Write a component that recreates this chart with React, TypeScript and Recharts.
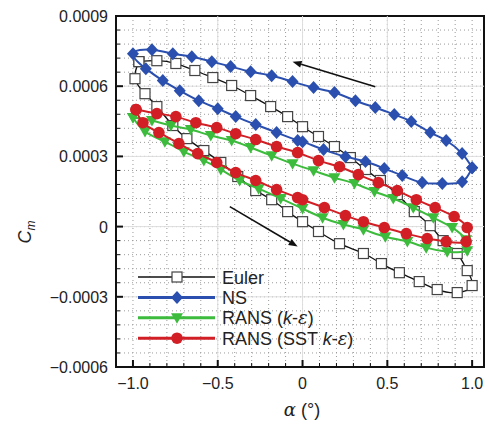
import React from "react";
import {
  ScatterChart,
  Scatter,
  XAxis,
  YAxis,
  CartesianGrid,
  ReferenceArea,
  ReferenceLine,
  Legend,
  Customized,
} from "recharts";

// Euler loop (upper branch left->right, then lower branch right->left)
const eulerAlpha = [
  -0.965, -0.859, -0.747, -0.635, -0.529, -0.418, -0.306, -0.188, -0.088, 0, 0.094, 0.188, 0.282, 0.371,
  0.459, 0.559, 0.659, 0.753, 0.829, 0.912, 0.971, 1.0, 0.912, 0.794, 0.688, 0.571, 0.465, 0.359, 0.218,
  0.094, 0, -0.088, -0.182, -0.276, -0.382, -0.482, -0.582, -0.682, -0.765, -0.859, -0.929, -0.988,
];
const eulerCm = [
  0.000705, 0.000709, 0.000697, 0.000667, 0.000637, 0.000603, 0.00056, 0.000513, 0.00047, 0.000427, 0.000385,
  0.000342, 0.000295, 0.000244, 0.000197, 0.000137, 0.000064, 0.000004, -0.00006, -0.000115, -0.000188,
  -0.000252, -0.000282, -0.000269, -0.000235, -0.000197, -0.000158, -0.000115, -0.000073, -0.000021, 0.000021,
  0.000064, 0.000115, 0.000154, 0.000214, 0.000274, 0.000325, 0.000376, 0.000432, 0.000513, 0.000568, 0.000632,
];

// NS loop
const nsAlpha = [
  1.0, 0.941, 0.847, 0.753, 0.641, 0.541, 0.429, 0.312, 0.188, 0.065, -0.059, -0.182, -0.306, -0.424, -0.535,
  -0.653, -0.765, -0.888, -1.0, -0.924, -0.824, -0.724, -0.612, -0.5, -0.394, -0.276, -0.153, -0.029, 0, 0.124,
  0.253, 0.371, 0.482, 0.588, 0.706, 0.824, 0.941,
];
const nsCm = [
  0.000252, 0.000312, 0.000368, 0.000402, 0.000449, 0.000479, 0.000509, 0.000538, 0.000573, 0.000594, 0.00062,
  0.000645, 0.000662, 0.000684, 0.000705, 0.000726, 0.000739, 0.000756, 0.000739, 0.000675, 0.000624, 0.000581,
  0.000538, 0.000504, 0.00047, 0.000436, 0.000402, 0.000368, 0.000363, 0.000329, 0.000299, 0.000278, 0.000248,
  0.000218, 0.000188, 0.000184, 0.000192,
];

// RANS (k-eps) loop
const keAlpha = [
  -1.0, -0.888, -0.776, -0.659, -0.541, -0.418, -0.306, -0.182, -0.059, 0.065, 0.188, 0.306, 0.424, 0.535,
  0.653, 0.771, 0.882, 0.965, 0.971, 0.853, 0.729, 0.618, 0.488, 0.359, 0.241, 0.118, 0, -0.129, -0.259,
  -0.371, -0.482, -0.582, -0.7, -0.812, -0.929,
];
const keCm = [
  0.000466, 0.000453, 0.000432, 0.000415, 0.000389, 0.000368, 0.000338, 0.000303, 0.000269, 0.000239, 0.000209,
  0.000184, 0.00015, 0.00012, 0.000081, 0.000038, -0.000004, -0.000056, -0.000103, -0.000107, -0.00009,
  -0.000064, -0.000043, -0.000013, 0.000009, 0.000038, 0.000077, 0.00012, 0.000162, 0.000197, 0.000244,
  0.000282, 0.00032, 0.000363, 0.000406,
];

// RANS (SST k-eps) loop
const sstAlpha = [
  -0.982, -0.859, -0.747, -0.629, -0.506, -0.394, -0.276, -0.153, -0.029, 0.094, 0.218, 0.329, 0.447, 0.559,
  0.671, 0.782, 0.894, 0.971, 0.965, 0.847, 0.735, 0.612, 0.482, 0.359, 0.253, 0.129, 0, -0.029, -0.153,
  -0.276, -0.394, -0.506, -0.618, -0.729, -0.847, -0.941,
];
const sstCm = [
  0.0005, 0.000483, 0.00047, 0.000444, 0.000423, 0.000397, 0.000372, 0.000342, 0.000316, 0.000282, 0.000256,
  0.000222, 0.000188, 0.000154, 0.000115, 0.000081, 0.000043, -0.000004, -0.000064, -0.000064, -0.000051,
  -0.00003, -0.000004, 0.000021, 0.000047, 0.000081, 0.000115, 0.000124, 0.000158, 0.000197, 0.000231,
  0.000274, 0.000312, 0.000355, 0.000402, 0.000444,
];

const xTicks = Array.from({ length: 21 }, (_, i) => +(-1 + i * 0.1).toFixed(1));
const yTicks = Array.from({ length: 26 }, (_, i) => +(-0.0006 + i * 0.00006).toFixed(5));

const BLUE = "#2a4fae";
const GREEN = "#3dbb3d";
const RED = "#d21f26";
const FONT = "'Liberation Sans', Arial, Helvetica, sans-serif";

// closed loop: repeat first point at the end
const loop = (a: number[], c: number[]) => {
  const pts = a.map((x, i) => ({ alpha: x, cm: c[i] }));
  return [...pts, pts[0]];
};

const square = (cx: number, cy: number) => (
  <rect x={cx - 5} y={cy - 5} width={10} height={10} fill="#fff" stroke="#444" strokeWidth={1.2} />
);
const diamond = (cx: number, cy: number, col: string) => (
  <polygon points={`${cx},${cy - 6.5} ${cx + 6},${cy} ${cx},${cy + 6.5} ${cx - 6},${cy}`} fill={col} />
);
const triangle = (cx: number, cy: number, col: string) => (
  <polygon points={`${cx - 6},${cy - 4.5} ${cx + 6},${cy - 4.5} ${cx},${cy + 6}`} fill={col} />
);
const circle = (cx: number, cy: number, col: string) => <circle cx={cx} cy={cy} r={5.8} fill={col} />;

const series = [
  { key: "euler", data: loop(eulerAlpha, eulerCm), color: "#111", width: 1.3, mark: (x: number, y: number) => square(x, y) },
  { key: "ns", data: loop(nsAlpha, nsCm), color: BLUE, width: 2, mark: (x: number, y: number) => diamond(x, y, BLUE) },
  { key: "ke", data: loop(keAlpha, keCm), color: GREEN, width: 2, mark: (x: number, y: number) => triangle(x, y, GREEN) },
  { key: "sst", data: loop(sstAlpha, sstCm), color: RED, width: 2, mark: (x: number, y: number) => circle(x, y, RED) },
];

const fmtX = (v: number) => (v === 0 ? "0" : (v < 0 ? "\u2212" : "") + Math.abs(v).toFixed(1));
const fmtY = (v: number) => (v === 0 ? "0" : (v < 0 ? "\u2212" : "") + Math.abs(v).toFixed(4));

const XTick = (props: any) => {
  const { x, y, payload } = props;
  const v = payload.value;
  const major = Math.abs(v * 2 - Math.round(v * 2)) < 1e-6;
  return (
    <g>
      <line x1={x} y1={y} x2={x} y2={y - (major ? 7 : 4)} stroke="#111" strokeWidth={major ? 2 : 1} />
      {major && (
        <text x={x} y={y + 22} textAnchor="middle" fontSize={16} fill="#222" fontFamily={FONT}>
          {fmtX(v)}
        </text>
      )}
    </g>
  );
};

const YTick = (props: any) => {
  const { x, y, payload } = props;
  const v = payload.value;
  const major = Math.abs(v / 0.0003 - Math.round(v / 0.0003)) < 1e-6;
  return (
    <g>
      <line x1={x} y1={y} x2={x + (major ? 7 : 4)} y2={y} stroke="#111" strokeWidth={major ? 2 : 1} />
      {major && (
        <text x={x - 8} y={y + 6} textAnchor="end" fontSize={16} fill="#222" fontFamily={FONT}>
          {fmtY(v)}
        </text>
      )}
    </g>
  );
};

const arrowShape = (props: any) => {
  const { x1, y1, x2, y2 } = props;
  const ang = Math.atan2(y2 - y1, x2 - x1);
  const L = 9, W = 3.5;
  const bx = x2 - L * Math.cos(ang), by = y2 - L * Math.sin(ang);
  const px = -Math.sin(ang) * W, py = Math.cos(ang) * W;
  return (
    <g>
      <line x1={x1} y1={y1} x2={bx} y2={by} stroke="#111" strokeWidth={1.6} />
      <polygon points={`${x2},${y2} ${bx + px},${by + py} ${bx - px},${by - py}`} fill="#111" />
    </g>
  );
};

const legendRows = [
  { label: <tspan>Euler</tspan>, s: series[0] },
  { label: <tspan>NS</tspan>, s: series[1] },
  {
    label: (
      <>
        <tspan>RANS (</tspan>
        <tspan fontStyle="italic">k</tspan>
        <tspan>-</tspan>
        <tspan fontStyle="italic" fontFamily="'DejaVu Serif', serif">ε</tspan>
        <tspan>)</tspan>
      </>
    ),
    s: series[2],
  },
  {
    label: (
      <>
        <tspan>RANS (SST </tspan>
        <tspan fontStyle="italic">k</tspan>
        <tspan>-</tspan>
        <tspan fontStyle="italic" fontFamily="'DejaVu Serif', serif">ε</tspan>
        <tspan>)</tspan>
      </>
    ),
    s: series[3],
  },
];

const LegendBox = () => (
  <svg width={260} height={90}>
    {legendRows.map((r, i) => {
      const y = 13 + i * 20.4;
      return (
        <g key={i}>
          <line x1={8} y1={y} x2={85} y2={y} stroke={r.s.color} strokeWidth={r.s.key === "euler" ? 1.6 : 3} />
          {r.s.mark(47, y)}
          <text x={92} y={y + 6.5} fontSize={18} fill="#222" fontFamily={FONT}>
            {r.label}
          </text>
        </g>
      );
    })}
  </svg>
);

const AxisTitles = () => (
  <g fontFamily={FONT} fill="#222">
    <text x={302} y={416} textAnchor="middle" fontSize={18}>
      <tspan fontStyle="italic" fontFamily="'DejaVu Serif', serif">α</tspan>
      <tspan> (°)</tspan>
    </text>
    <text transform="translate(31,232) rotate(-90)" textAnchor="middle" fontSize={18}>
      <tspan fontStyle="italic">C</tspan>
      <tspan fontSize={12} dy={4} fontStyle="italic">m</tspan>
    </text>
  </g>
);

export default function App() {
  return (
    <div style={{ position: "absolute", left: 0, top: 0, width: 489, height: 424, background: "#fff" }}>
      <ScatterChart
        width={489}
        height={424}
        margin={{ top: 16, right: 5, bottom: 27, left: 56 }}
        style={{ fontFamily: FONT }}
      >
        <CartesianGrid stroke="#9a9a9a" strokeDasharray="1 3" strokeWidth={1} />
        <XAxis
          type="number"
          dataKey="alpha"
          domain={[-1.1, 1.07]}
          ticks={xTicks}
          tick={<XTick />}
          tickLine={false}
          tickSize={0}
          tickMargin={0}
          axisLine={false}
          height={30}
          allowDataOverflow
          interval={0}
        />
        <YAxis
          type="number"
          dataKey="cm"
          domain={[-0.0006, 0.0009]}
          ticks={yTicks}
          tick={<YTick />}
          tickLine={false}
          tickSize={0}
          tickMargin={0}
          axisLine={false}
          width={60}
          allowDataOverflow
          interval={0}
        />
        {[-0.5, 0, 0.5].map((v) => (
          <ReferenceLine key={"vx" + v} x={v} stroke="#dedede" strokeWidth={1} />
        ))}
        {[0.0006, 0.0003, 0, -0.0003].map((v) => (
          <ReferenceLine key={"hy" + v} y={v} stroke="#dedede" strokeWidth={1} />
        ))}
        {series.map((s) => (
          <Scatter
            key={s.key}
            name={s.key}
            data={s.data}
            line={{ stroke: s.color, strokeWidth: s.width }}
            lineType="joint"
            lineJointType="natural"
            shape={(p: any) => s.mark(p.cx, p.cy)}
            isAnimationActive={false}
          />
        ))}
        <ReferenceLine
          segment={[
            { x: 0.429, y: 0.000598 },
            { x: -0.059, y: 0.000705 },
          ]}
          shape={arrowShape}
        />
        <ReferenceLine
          segment={[
            { x: -0.429, y: 0.0000855 },
            { x: -0.029, y: -0.0000855 },
          ]}
          shape={arrowShape}
        />
        <ReferenceArea x1={-1.1} x2={1.07} y1={-0.0006} y2={0.0009} fill="none" stroke="#111" strokeWidth={2} />
        <Legend
          layout="vertical"
          align="center"
          verticalAlign="middle"
          content={<LegendBox />}
          wrapperStyle={{ position: "absolute", left: 130, top: 264, width: 260, height: 90 }}
        />
        <Customized component={<AxisTitles />} />
      </ScatterChart>
    </div>
  );
}
